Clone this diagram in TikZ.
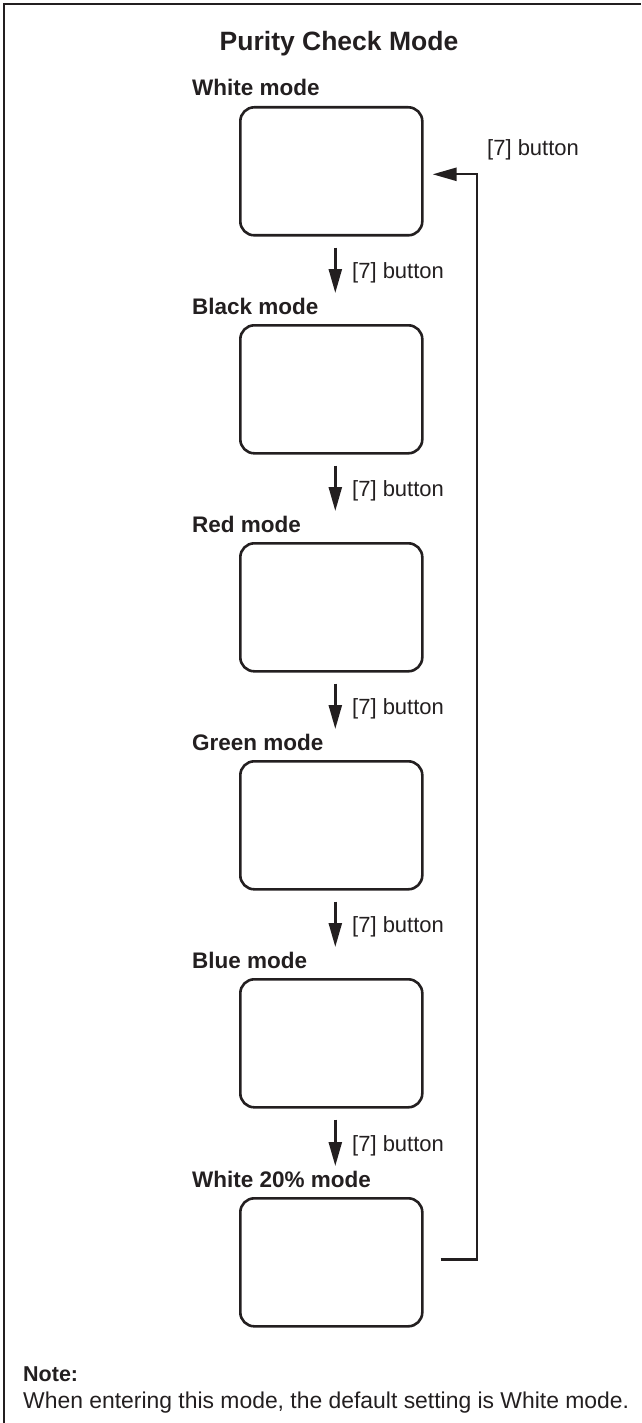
\documentclass[tikz,border=0pt]{standalone}
\usepackage{fontspec}
\setmainfont{Liberation Sans}
\usetikzlibrary{arrows.meta}
\definecolor{ink}{HTML}{231F20}
\tikzset{
  modebox/.style={draw=ink, line width=2.6pt, rounded corners=14pt, minimum width=182pt, minimum height=128pt, inner sep=0pt, anchor=north west},
  modelabel/.style={anchor=base west, inner sep=0pt, text=ink, font=\bfseries\fontsize{22.5}{24}\selectfont},
  btnlabel/.style={anchor=base west, inner sep=0pt, text=ink, font=\fontsize{22}{24}\selectfont},
  arr/.style={draw=ink, line width=2.4pt, -{Triangle[length=24pt,width=13pt]}},
  fbline/.style={draw=ink, line width=2.4pt, -{Triangle[length=24pt,width=13pt]}}
}
\begin{document}
\begin{tikzpicture}[x=1pt,y=-1pt]
\useasboundingbox (0,0) rectangle (641,1423);
% frame
\draw[ink, line width=2.6pt] (4,1423) -- (4,4) -- (641,4);
% title
\node[anchor=base, inner sep=0pt, text=ink, font=\bfseries\fontsize{26.5}{28}\selectfont] (title) at (339,51) {Purity Check Mode};
% boxes
\node[modebox] (w)   at (239,106)  {};
\node[modebox] (bk)  at (239,324)  {};
\node[modebox] (r)   at (239,542)  {};
\node[modebox] (g)   at (239,760)  {};
\node[modebox] (bl)  at (239,978)  {};
\node[modebox] (w20) at (239,1197) {};
% mode labels
\node[modelabel] (lw)   at (192,96)   {White mode};
\node[modelabel] (lbk)  at (192,314)  {Black mode};
\node[modelabel] (lr)   at (192,532)  {Red mode};
\node[modelabel] (lg)   at (192,750)  {Green mode};
\node[modelabel] (lbl)  at (192,968)  {Blue mode};
\node[modelabel] (lw20) at (192,1187) {White 20\% mode};
% arrows between boxes
\draw[arr, shorten <=11pt, shorten >=31pt] ([xshift=4pt]w.south)  -- ([xshift=4pt]bk.north);
\draw[arr, shorten <=11pt, shorten >=31pt] ([xshift=4pt]bk.south) -- ([xshift=4pt]r.north);
\draw[arr, shorten <=11pt, shorten >=31pt] ([xshift=4pt]r.south)  -- ([xshift=4pt]g.north);
\draw[arr, shorten <=11pt, shorten >=31pt] ([xshift=4pt]g.south)  -- ([xshift=4pt]bl.north);
\draw[arr, shorten <=11pt, shorten >=31pt] ([xshift=4pt]bl.south) -- ([xshift=4pt]w20.north);
% button labels
\node[btnlabel] (b1) at (352,278)  {[7] button};
\node[btnlabel] (b2) at (352,496)  {[7] button};
\node[btnlabel] (b3) at (352,714)  {[7] button};
\node[btnlabel] (b4) at (352,932)  {[7] button};
\node[btnlabel] (b5) at (352,1151) {[7] button};
\node[btnlabel] (b6) at (487,156)  {[7] button};
% feedback
\coordinate (fb) at (477,0);
\draw[fbline, shorten <=17pt, shorten >=9pt] ([yshift=3pt]w20.east) -- ([yshift=3pt]w20.east -| fb) -- ([yshift=-3pt]w.east -| fb) -- ([yshift=-3pt]w.east);
% note
\node[anchor=base west, inner sep=0pt, text=ink, font=\bfseries\fontsize{21.5}{23}\selectfont] (nt) at (23,1381) {Note:};
\node[anchor=base west, inner sep=0pt, text=ink, font=\fontsize{22.9}{25}\selectfont] (ntx) at (23,1408) {When entering this mode, the default setting is White mode.};
\end{tikzpicture}
\end{document}
